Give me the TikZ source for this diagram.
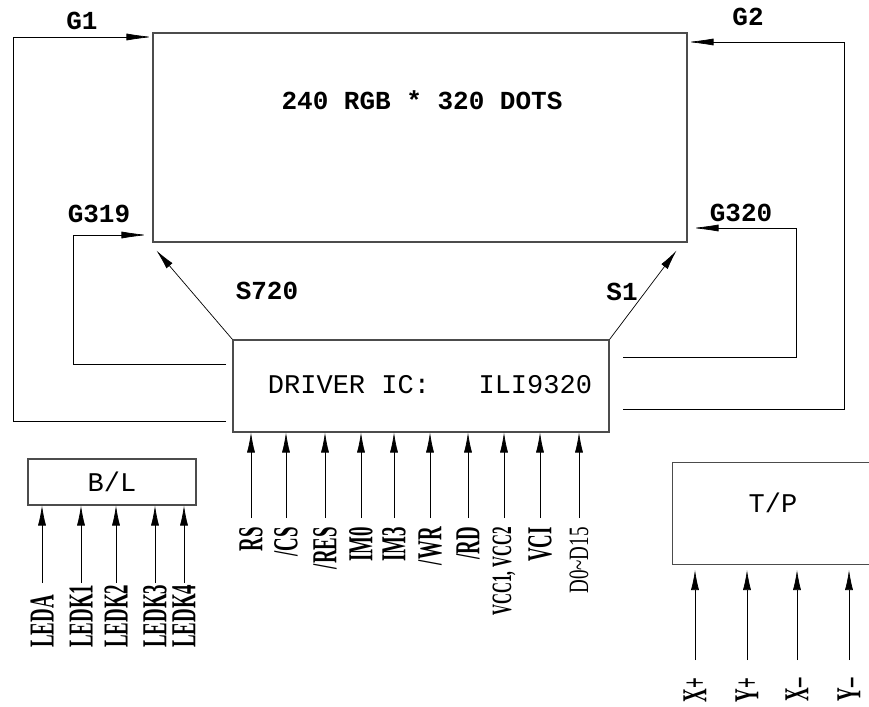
\documentclass[tikz,border=0pt]{standalone}
\usepackage{fontspec}
\usepackage{graphicx}
\usetikzlibrary{arrows.meta,positioning}
\newfontfamily\monofont{Liberation Mono}
\newfontfamily\pinfont{Liberation Serif}
\newcommand{\squeeze}[2][0.54]{\scalebox{#1}[1]{#2}}

\begin{document}
\begin{tikzpicture}[x=1pt,y=-1pt,
    sig/.style={line width=0.7pt,-{Latex[length=26pt,width=7pt]}},
    pinarrow/.style={line width=0.7pt,-{Latex[length=20pt,width=8pt]}},
    frame/.style={shape=rectangle,draw=black!70,line width=1.1pt,inner sep=0pt},
    tag/.style={font=\monofont\bfseries\fontsize{26}{26}\selectfont,inner sep=0pt},
    boxtext/.style={font=\monofont\fontsize{27}{27}\selectfont,inner sep=0pt},
    pinlabel/.style={font=\pinfont\bfseries\fontsize{35}{35}\selectfont,rotate=90,inner sep=0pt}]
    \clip (0,0) rectangle (869,706);
    % panel and driver
    \node[frame,minimum width=534pt,minimum height=209pt] (panel) at (420,137.5) {};
    \node[tag] (paneltext) at (422,100) {240 RGB * 320 DOTS};
    \node[frame,minimum width=376pt,minimum height=92pt] (driver) at (421,386) {};
    \node[boxtext] (drivertext) at (430,385) {DRIVER IC:\ \ \ ILI9320};
    % gate lines
    \draw[sig] (226,421) -| (13,37) -- (panel.west |- 0,37);
    \draw[sig] (226,364) -| (73,235) -- ([xshift=-5pt]panel.west |- 0,235);
    \draw[sig] (623,409) -| (844,42) -- (panel.east |- 0,42);
    \draw[sig] (623,357) -| (796,228) -- ([xshift=5pt]panel.east |- 0,228);
    \node[tag] (g1) at (82,21) {G1};
    \node[tag] (g2) at (748,17) {G2};
    \node[tag] (g319) at (99,214) {G319};
    \node[tag] (g320) at (741,213) {G320};
    % source lines
    \draw[pinarrow] (driver.north west) -- ([shift={(4,8)}]panel.south west);
    \draw[pinarrow] (driver.north east) -- ([shift={(-11,8)}]panel.south east);
    \node[tag] (s720) at (267,291) {S720};
    \node[tag] (s1) at (622,292) {S1};
    % driver pins
    \foreach \px/\pname in {251/RS,286/{/CS},325/{/RES},361/IM0,394/IM3,430/{/WR},468/{/RD},540/VCI} {
      \node[pinlabel,anchor=east] (pin\px) at (\px,527) {\squeeze{\pname}};
      \draw[pinarrow] (\px,518) -- (driver.south -| \px,0);
    }
    \node[pinlabel,anchor=east,font=\pinfont\bfseries\fontsize{28}{28}\selectfont] (pin504) at (504,527) {\squeeze{VCC1, VCC2}};
    \draw[pinarrow] (504,518) -- (driver.south -| 504,0);
    \node[pinlabel,anchor=east,font=\pinfont\fontsize{28}{28}\selectfont] (pin579) at (579,527) {\squeeze[0.68]{D0\textasciitilde D15}};
    \draw[pinarrow] (579,518) -- (driver.south -| 579,0);
    % back light
    \node[frame,minimum width=168pt,minimum height=46pt,boxtext] (bl) at (112,482) {B/L};
    \foreach \lx/\lname in {42/LEDA,81/LEDK1,116/LEDK2,155/LEDK3,184/LEDK4} {
      \node[pinlabel,anchor=west] (\lname) at (\lx,648) {\squeeze{\lname}};
      \draw[pinarrow] (\lx,583) -- (bl.south -| \lx,0);
    }
    % touch panel
    \node[frame,minimum width=230pt,minimum height=102pt,anchor=north west] (tp) at (672,462) {};
    \node[boxtext] (tptext) at (773,503) {T/P};
    \foreach \tx/\tname in {695/X+,747/Y+,797/{X\textendash},849/{Y\textendash}} {
      \node[pinlabel,anchor=east] (tp\tx) at (\tx,678) {\squeeze{\tname}};
      \draw[pinarrow] (\tx,660) -- (\tx,570);
    }
\end{tikzpicture}
\end{document}
